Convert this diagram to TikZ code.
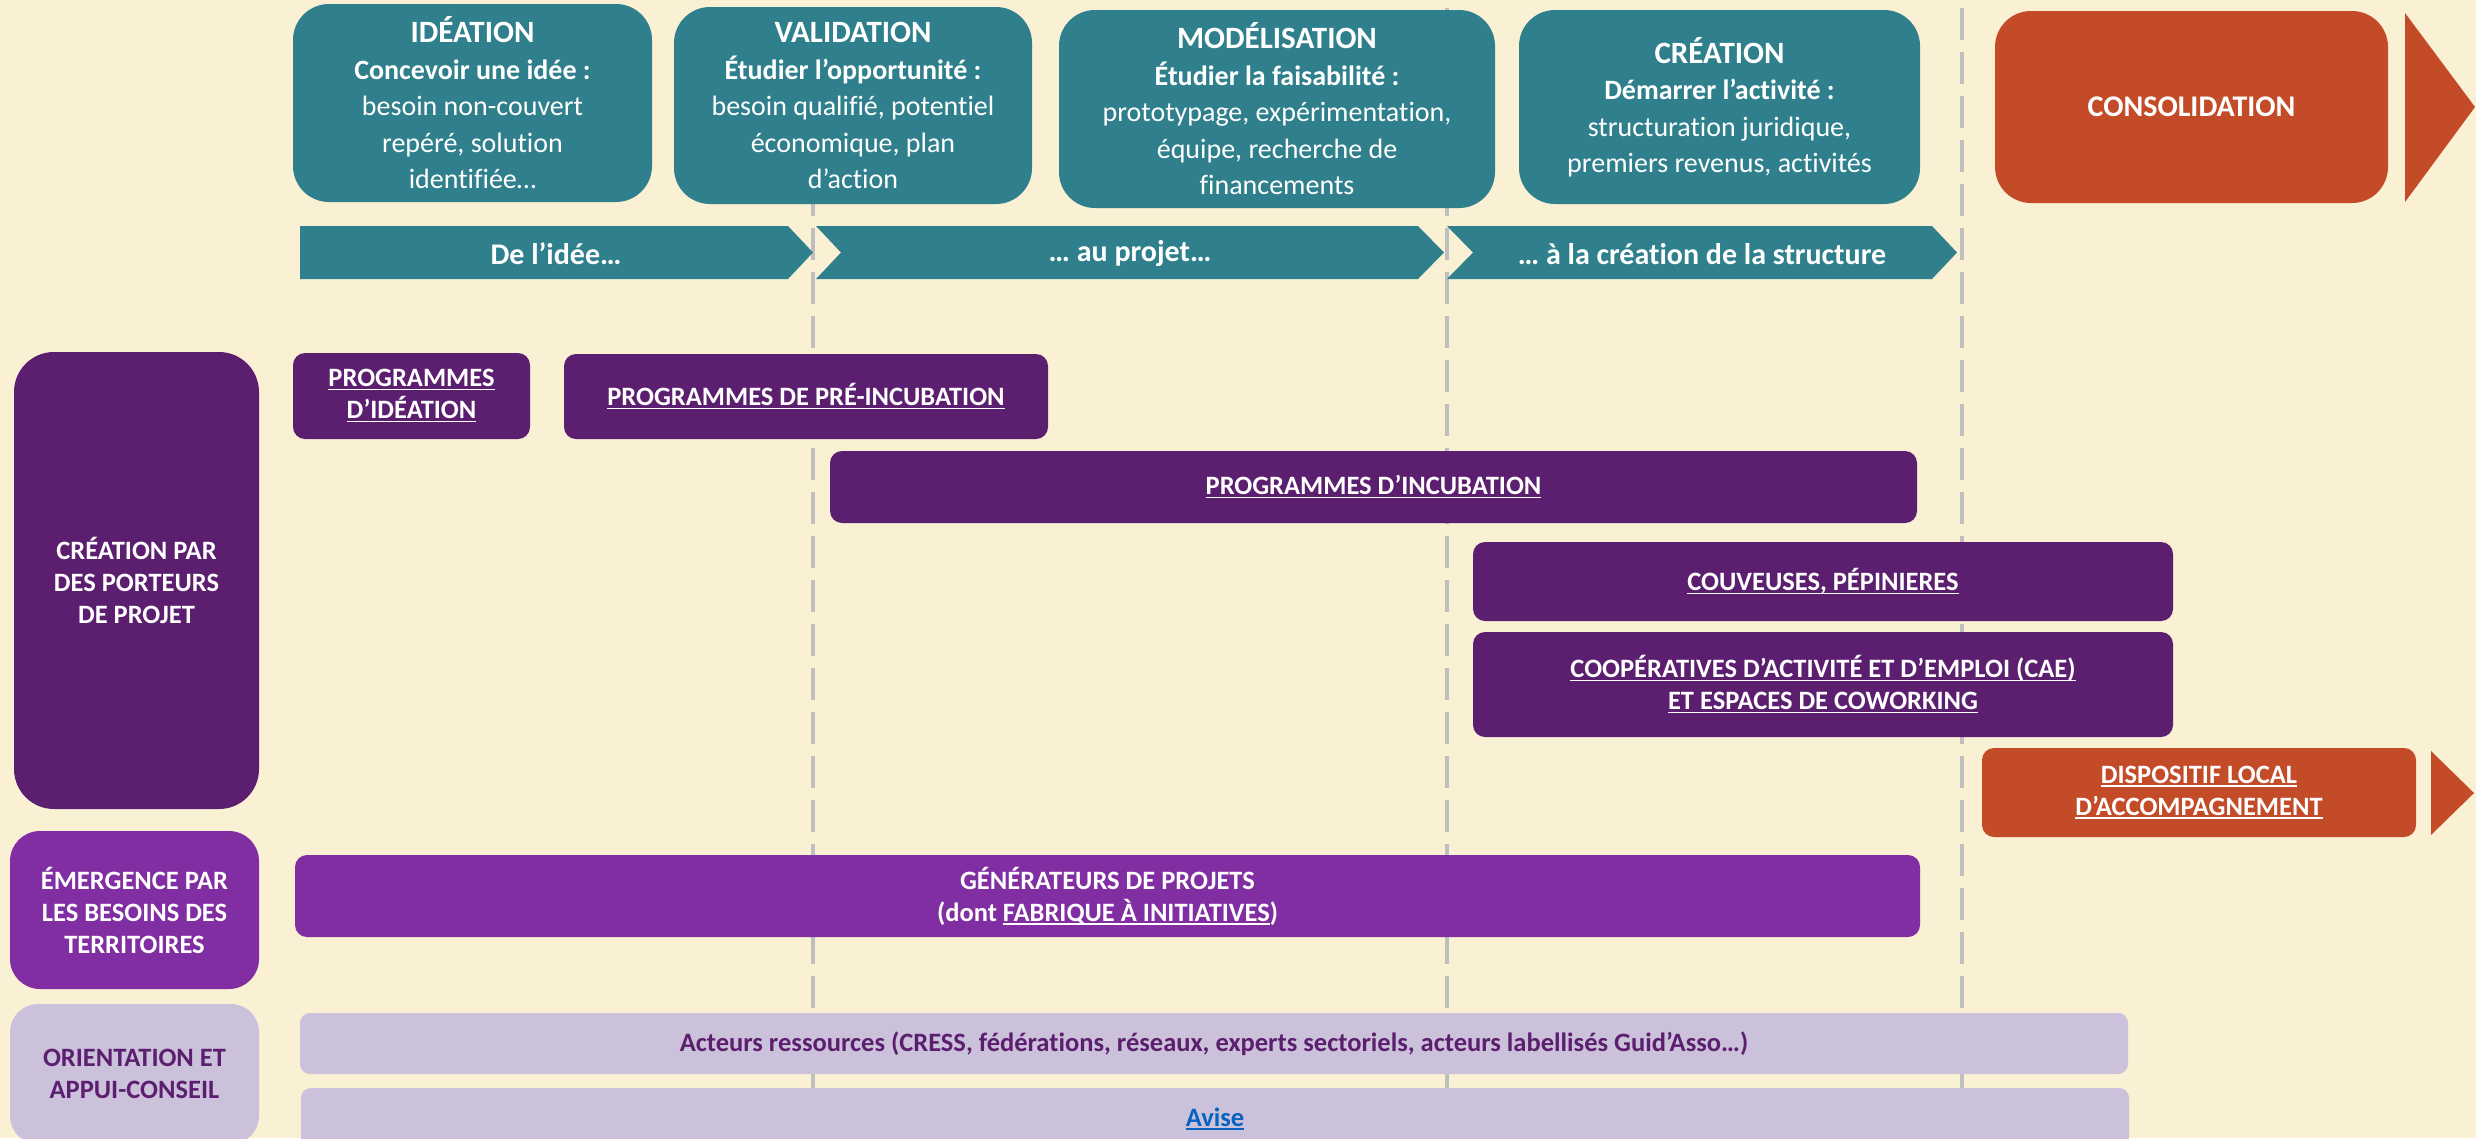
\documentclass[tikz,border=0pt]{standalone}
\usepackage{fontspec}
\setmainfont{Carlito}[Ligatures=NoCommon]

\definecolor{fond}{RGB}{250,240,212}
\definecolor{bleucanard}{RGB}{47,128,140}
\definecolor{violetfonce}{RGB}{92,31,112}
\definecolor{violetmoyen}{RGB}{128,46,162}
\definecolor{lavande}{RGB}{204,193,218}
\definecolor{brique}{RGB}{196,75,40}
\definecolor{gristiret}{RGB}{191,191,191}
\definecolor{bleulien}{RGB}{5,99,193}

% texte souligne (liens)
\newcommand\lien[1]{\leavevmode\setbox0\hbox{#1}\rlap{\rule[-0.13em]{\wd0}{0.065em}}\box0}
\newcommand\titrephase{\fontsize{31}{36.5}\selectfont\bfseries}

\begin{document}
\begin{tikzpicture}[x=1pt, y=-1pt,
    phase/.style={fill=bleucanard, text=white, rounded corners=36pt, align=center,
      inner sep=0pt, font=\fontsize{28}{36.5}\selectfont},
    fleche/.style={fill=bleucanard},
    bandeau/.style={text=white, inner sep=0pt, font=\fontsize{30}{36}\selectfont\bfseries},
    etiquette/.style={text=white, align=center, inner sep=0pt,
      font=\fontsize{26.5}{32}\selectfont\bfseries},
    barre/.style={etiquette, fill=violetfonce, rounded corners=12pt},
    tirets/.style={draw=gristiret, line width=4pt, dash pattern=on 32pt off 12pt}]

  \useasboundingbox (0,0) rectangle (2476,1138);
  \clip (0,0) rectangle (2476,1138);
  \fill[fond] (0,0) rectangle (2476,1138);

  % separations entre les etapes
  \foreach \x in {813,1447,1962}
    \draw[tirets] (\x,8) -- (\x,1138);

  % etapes
  \node[phase, minimum width=359pt, minimum height=198pt] (ideation) at (472.5,103)
    {{\titrephase IDÉATION}\\{\bfseries Concevoir une idée :}\\besoin non-couvert\\repéré, solution\\identifiée…};
  \node[phase, minimum width=358pt, minimum height=197pt] (validation) at (853,105.5)
    {{\titrephase VALIDATION}\\{\bfseries Étudier l’opportunité :}\\besoin qualifié, potentiel\\économique, plan\\d’action};
  \node[phase, minimum width=436pt, minimum height=198pt] (modelisation) at (1277,109)
    {{\titrephase MODÉLISATION}\\{\bfseries Étudier la faisabilité :}\\prototypage, expérimentation,\\équipe, recherche de\\financements};
  \node[phase, minimum width=401pt, minimum height=194pt] (creation) at (1719.5,107)
    {{\titrephase CRÉATION}\\{\bfseries Démarrer l’activité :}\\structuration juridique,\\premiers revenus, activités};
  \node[phase, fill=brique, minimum width=393pt, minimum height=192pt,
    font=\fontsize{30}{36}\selectfont\bfseries] (consolidation) at (2191.5,107) {CONSOLIDATION};
  \fill[brique] (2405,13) -- (2475,107) -- (2405,202) -- cycle;

  % bandeaux
  \fill[fleche] (300,226) -- (788,226) -- (813,252.5) -- (788,279) -- (300,279) -- cycle;
  \fill[fleche] (816,226) -- (1418,226) -- (1444,252.5) -- (1418,279) -- (816,279) -- (841,252.5) -- cycle;
  \fill[fleche] (1447,226) -- (1932,226) -- (1957,252.5) -- (1932,279) -- (1447,279) -- (1473,252.5) -- cycle;
  \node[bandeau] (idee) at (556,254) {De l’idée…};
  \node[bandeau] (projet) at (1130,254) {… au projet…};
  \node[bandeau] (structure) at (1702,254) {… à la création de la structure};

  % types d'acteurs
  \node[etiquette, fill=violetfonce, rounded corners=40pt, minimum width=245pt, minimum height=457pt]
    (porteurs) at (136.5,580.5) {CRÉATION PAR\\DES PORTEURS\\DE PROJET};
  \node[etiquette, fill=violetmoyen, rounded corners=30pt, minimum width=249pt, minimum height=158pt]
    (territoires) at (134.5,910) {ÉMERGENCE PAR\\LES BESOINS DES\\TERRITOIRES};
  \node[etiquette, fill=lavande, text=violetfonce, rounded corners=28pt, minimum width=249pt, minimum height=140pt]
    (orientation) at (134.5,1074) {ORIENTATION ET\\APPUI-CONSEIL};

  % dispositifs
  \node[barre, minimum width=237pt, minimum height=86pt] (progideation) at (411.5,396)
    {\lien{PROGRAMMES}\\\lien{D’IDÉATION}};
  \node[barre, minimum width=484pt, minimum height=85pt] (preincubation) at (806,396.5)
    {\lien{PROGRAMMES DE PRÉ-INCUBATION}};
  \node[barre, minimum width=1087pt, minimum height=72pt] (incubation) at (1373.5,487)
    {\lien{PROGRAMMES D’INCUBATION}};
  \node[barre, minimum width=700pt, minimum height=79pt] (couveuses) at (1823,581.5)
    {\lien{COUVEUSES, PÉPINIERES}};
  \node[barre, minimum width=700pt, minimum height=105pt] (cae) at (1823,684.5)
    {\lien{COOPÉRATIVES D’ACTIVITÉ ET D’EMPLOI (CAE)}\\\lien{ET ESPACES DE COWORKING}};
  \node[barre, fill=brique, minimum width=434pt, minimum height=89pt] (dla) at (2199,792.5)
    {\lien{DISPOSITIF LOCAL}\\\lien{D’ACCOMPAGNEMENT}};
  \fill[brique] (2431,751) -- (2474,793) -- (2431,835) -- cycle;
  \node[barre, fill=violetmoyen, minimum width=1625pt, minimum height=82pt] (generateurs) at (1107.5,896)
    {GÉNÉRATEURS DE PROJETS\\(dont \lien{FABRIQUE À INITIATIVES})};
  \node[barre, fill=lavande, text=violetfonce, rounded corners=10pt, minimum width=1828pt, minimum height=61pt]
    (ressources) at (1214,1043.5)
    {Acteurs ressources (CRESS, fédérations, réseaux, experts sectoriels, acteurs labellisés Guid’Asso…)};
  \node[barre, fill=lavande, text=bleulien, rounded corners=10pt, minimum width=1828pt, minimum height=61pt]
    (avise) at (1215,1118.5) {\lien{Avise}};
\end{tikzpicture}
\end{document}
